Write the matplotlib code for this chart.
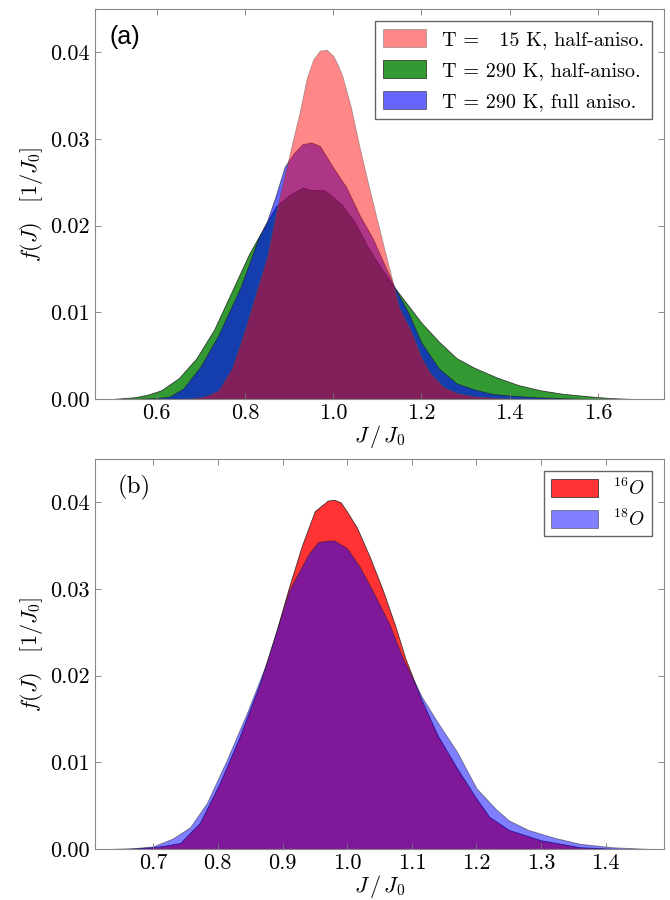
import matplotlib as mpl
import matplotlib.pyplot as plt

mpl.use("Agg")

plt.rcParams["font.family"] = "serif"
plt.rcParams["font.serif"] = ["cmr10", "DejaVu Serif"]
plt.rcParams["mathtext.fontset"] = "cm"
plt.rcParams["axes.formatter.use_mathtext"] = True
plt.rcParams["axes.unicode_minus"] = False

# panel (a): three distributions
x_15k_half = [0.66, 0.70, 0.72, 0.74, 0.77, 0.80, 0.82, 0.85, 0.875, 0.90, 0.925, 0.94,
              0.955, 0.97, 0.985, 1.00, 1.01, 1.02, 1.04, 1.06, 1.08, 1.11, 1.13, 1.15,
              1.175, 1.20, 1.22, 1.25, 1.28, 1.32, 1.38, 1.45]
y_15k_half = [0.0, 0.0002, 0.0005, 0.0010, 0.0035, 0.0080, 0.0114, 0.0164, 0.0226, 0.0280,
              0.0333, 0.0370, 0.0392, 0.0402, 0.0403, 0.0396, 0.0386, 0.0374, 0.0337,
              0.0290, 0.0247, 0.0185, 0.0145, 0.0105, 0.0080, 0.0048, 0.0030, 0.0014,
              0.0007, 0.0003, 0.0001, 0.0]

x_290k_half = [0.50, 0.55, 0.58, 0.61, 0.65, 0.69, 0.73, 0.77, 0.81, 0.84, 0.87, 0.90,
               0.93, 0.95, 0.98, 1.00, 1.02, 1.05, 1.08, 1.11, 1.14, 1.17, 1.20, 1.24,
               1.28, 1.32, 1.37, 1.42, 1.47, 1.52, 1.58, 1.63, 1.68]
y_290k_half = [0.0, 0.0002, 0.0005, 0.0010, 0.0024, 0.0047, 0.0080, 0.0124, 0.0168, 0.0195,
               0.0222, 0.0235, 0.0244, 0.0241, 0.0241, 0.0233, 0.0224, 0.0203, 0.0174,
               0.0150, 0.0128, 0.0108, 0.0088, 0.0066, 0.0047, 0.0036, 0.0025, 0.0016,
               0.0010, 0.0006, 0.0003, 0.0001, 0.0]

x_290k_full = [0.54, 0.60, 0.63, 0.66, 0.70, 0.74, 0.79, 0.83, 0.85, 0.87, 0.89, 0.91,
               0.93, 0.95, 0.97, 1.00, 1.03, 1.06, 1.09, 1.11, 1.14, 1.17, 1.20, 1.24,
               1.28, 1.32, 1.36, 1.40, 1.46, 1.52, 1.58]
y_290k_full = [0.0, 0.0001, 0.0003, 0.0012, 0.0038, 0.0074, 0.0129, 0.0185, 0.0205, 0.0235,
               0.0268, 0.0283, 0.0294, 0.0296, 0.0292, 0.0267, 0.0244, 0.0212, 0.0185,
               0.0162, 0.0128, 0.0100, 0.0065, 0.0035, 0.0018, 0.0011, 0.0006, 0.0004,
               0.0002, 0.0001, 0.0]

# panel (b): isotope comparison
x_16o = [0.66, 0.70, 0.72, 0.742, 0.772, 0.803, 0.834, 0.865, 0.89, 0.91, 0.93, 0.95,
         0.97, 0.98, 0.99, 1.00, 1.015, 1.035, 1.055, 1.075, 1.09, 1.115, 1.14, 1.17,
         1.20, 1.22, 1.25, 1.30, 1.36, 1.42]
y_16o = [0.0, 0.0002, 0.0004, 0.0007, 0.0030, 0.0076, 0.0130, 0.0191, 0.0250, 0.0302,
         0.0350, 0.0390, 0.0402, 0.0403, 0.0400, 0.0389, 0.0371, 0.0337, 0.0299, 0.0256,
         0.0220, 0.0172, 0.0131, 0.0093, 0.0058, 0.0037, 0.0022, 0.0010, 0.0002, 0.0]

x_18o = [0.63, 0.67, 0.70, 0.73, 0.757, 0.783, 0.814, 0.845, 0.875, 0.895, 0.91, 0.94,
         0.955, 0.97, 0.98, 1.00, 1.02, 1.04, 1.065, 1.085, 1.115, 1.14, 1.17, 1.20, 1.23,
         1.25, 1.28, 1.32, 1.36, 1.41, 1.47]
y_18o = [0.0, 0.0001, 0.0003, 0.0012, 0.0025, 0.0053, 0.0103, 0.0157, 0.0214, 0.0262,
         0.0298, 0.0340, 0.0354, 0.0356, 0.0356, 0.0347, 0.0325, 0.0297, 0.0260, 0.0222,
         0.0176, 0.0146, 0.0112, 0.0070, 0.0046, 0.0033, 0.0022, 0.0013, 0.0006, 0.0002,
         0.0]

labels_a = ["T =   15 K, half-aniso.", "T = 290 K, half-aniso.", "T = 290 K, full aniso."]
labels_b = [r"$^{16}O$", r"$^{18}O$"]


def style_axes(ax):
    ax.tick_params(direction="in", top=True, right=True, length=4, width=0.6,
                   labelsize=16, color="#777777")
    for spine in ax.spines.values():
        spine.set_color("#888888")
        spine.set_linewidth(0.8)
    ax.set_ylim(0, 0.045)
    ax.set_yticks([0.0, 0.01, 0.02, 0.03, 0.04])
    ax.set_yticklabels(["0.00", "0.01", "0.02", "0.03", "0.04"])
    ax.set_xlabel(r"$J\,/\,J_0$", fontsize=16, labelpad=0)
    ax.set_ylabel(r"$f(J)\quad[1/J_0]$", fontsize=16, labelpad=4)


fig = plt.figure(figsize=(6.7, 9.0), dpi=100)
ax1 = fig.add_axes([0.1418, 0.5567, 0.8492, 0.4333])
ax2 = fig.add_axes([0.1418, 0.0567, 0.8492, 0.4333])

# (a) green first, then blue, pink on top
ax1.fill_between(x_290k_half, y_290k_half, color="green", alpha=0.8,
                 edgecolor="#1a1a1a", linewidth=0.6, label=labels_a[1])
ax1.fill_between(x_290k_full, y_290k_full, color="blue", alpha=0.6,
                 edgecolor="#1a1a1a", linewidth=0.6, label=labels_a[2])
ax1.fill_between(x_15k_half, y_15k_half, color="red", alpha=0.47,
                 edgecolor="#555555", linewidth=0.6, label=labels_a[0])
h, l = ax1.get_legend_handles_labels()
order = [2, 0, 1]
ax1.legend([h[i] for i in order], [l[i] for i in order], loc="upper right",
           fontsize=14.5, fancybox=False, edgecolor="#666666", framealpha=1,
           handlelength=2.1, handleheight=1.0, labelspacing=0.55,
           borderaxespad=0.6)
ax1.set_xlim(0.46, 1.75)
ax1.set_xticks([0.6, 0.8, 1.0, 1.2, 1.4, 1.6])
ax1.set_xticklabels(["0.6", "0.8", "1.0", "1.2", "1.4", "1.6"])
style_axes(ax1)
ax1.text(0.025, 0.96, "(a)", transform=ax1.transAxes, fontsize=18,
         family="Liberation Sans", va="top")

# (b) red first, blue on top
ax2.fill_between(x_16o, y_16o, color="red", alpha=0.8,
                 edgecolor="#1a1a1a", linewidth=0.6, label=labels_b[0])
ax2.fill_between(x_18o, y_18o, color="blue", alpha=0.5,
                 edgecolor="#1a1a1a", linewidth=0.6, label=labels_b[1])
ax2.legend(loc="upper right", fontsize=14, fancybox=False, edgecolor="#666666",
           framealpha=1, handlelength=2.4, handleheight=1.0, labelspacing=0.5,
           borderpad=0.35, borderaxespad=0.6)
ax2.set_xlim(0.61, 1.49)
ax2.set_xticks([0.7, 0.8, 0.9, 1.0, 1.1, 1.2, 1.3, 1.4])
ax2.set_xticklabels(["0.7", "0.8", "0.9", "1.0", "1.1", "1.2", "1.3", "1.4"])
style_axes(ax2)
ax2.text(0.04, 0.96, "(b)", transform=ax2.transAxes, fontsize=18, va="top")

fig.savefig("out.png", dpi=100)
